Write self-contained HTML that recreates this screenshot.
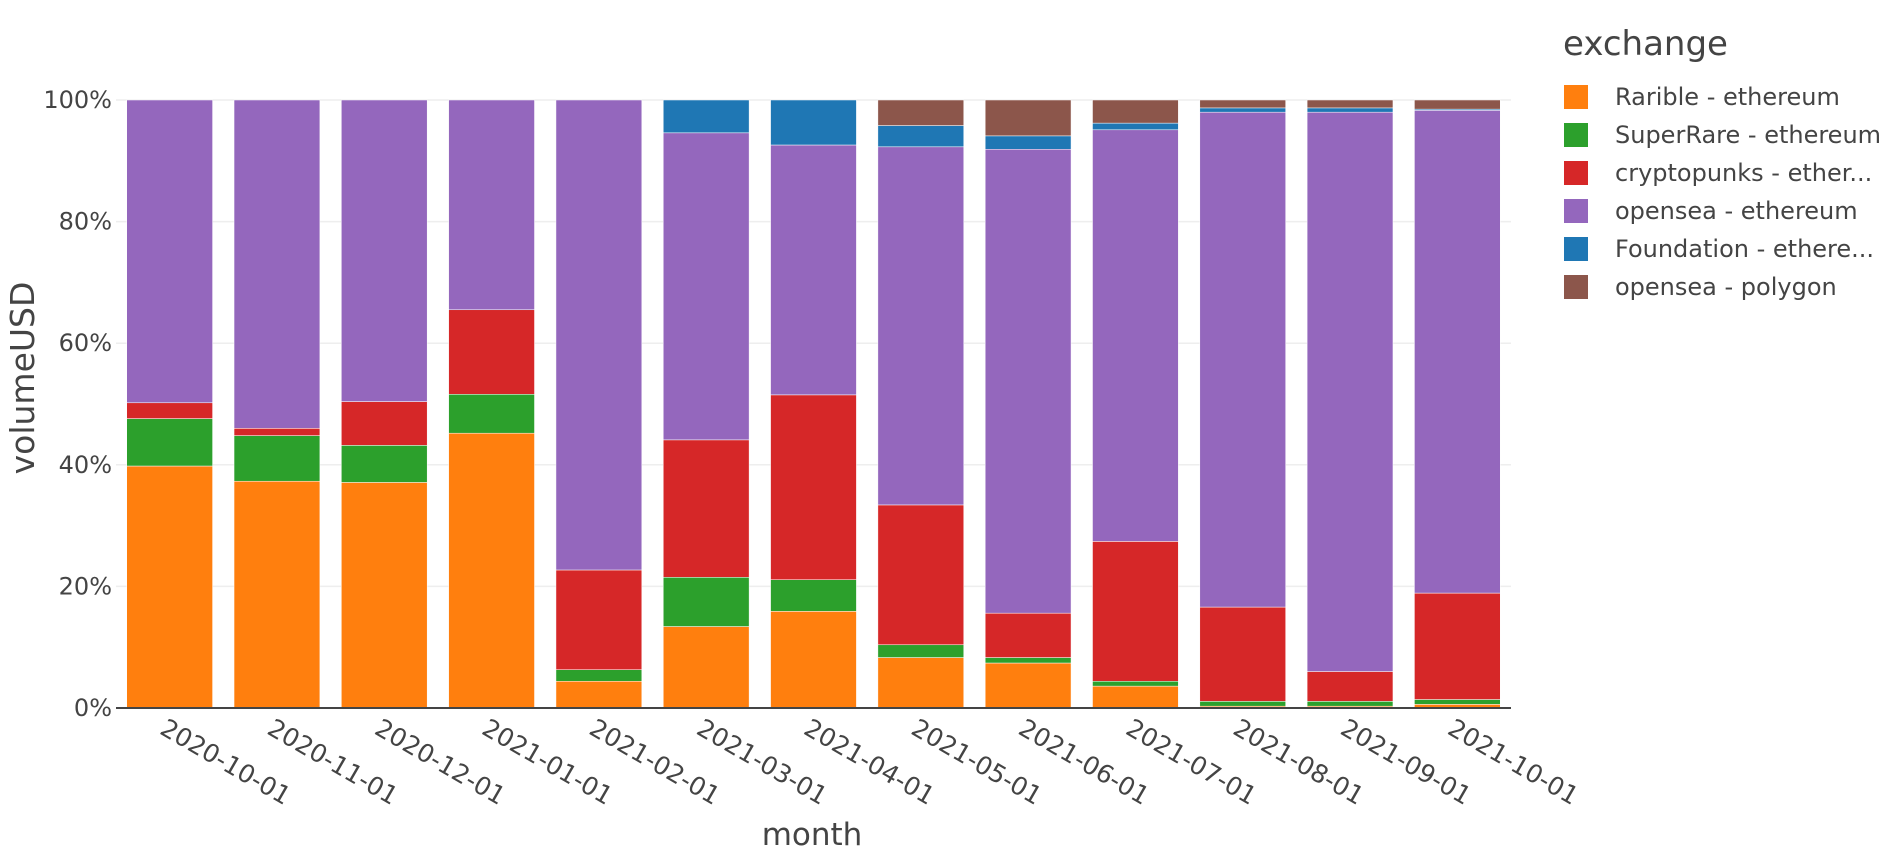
<!DOCTYPE html>
<html><head><meta charset="utf-8"><style>
body{margin:0;background:#fff}
svg text{font-family:"DejaVu Sans","Liberation Sans",sans-serif;fill:#444}
</style></head><body>
<svg id="chart" width="1900" height="856" xmlns="http://www.w3.org/2000/svg">
<g id="grid"></g>
<g id="bars"></g>
<g id="axes"></g>
<text transform="translate(34,378) rotate(-90)" text-anchor="middle" font-size="33">volumeUSD</text>
<text x="812" y="845" text-anchor="middle" font-size="31">month</text>
<g id="legend">
<text x="1563" y="55" font-size="34">exchange</text>
</g>
</svg>
<script>
const categories=["2020-10-01","2020-11-01","2020-12-01","2021-01-01","2021-02-01","2021-03-01","2021-04-01","2021-05-01","2021-06-01","2021-07-01","2021-08-01","2021-09-01","2021-10-01"];
const seriesNames=["Rarible - ethereum","SuperRare - ethereum","cryptopunks - ethereum","opensea - ethereum","Foundation - ethereum","opensea - polygon"];
const legendLabels=["Rarible - ethereum","SuperRare - ethereum","cryptopunks - ether...","opensea - ethereum","Foundation - ethere...","opensea - polygon"];
const colors=["#ff7f0e","#2ca02c","#d62728","#9467bd","#1f77b4","#8c564b"];
const rarible=[39.8,37.3,37.1,45.2,4.4,13.4,15.9,8.3,7.4,3.6,0.3,0.3,0.6];
const superrare=[7.8,7.5,6.1,6.4,1.9,8.1,5.2,2.1,0.9,0.8,0.8,0.8,0.8];
const cryptopunks=[2.6,1.2,7.2,13.9,16.4,22.6,30.4,23,7.3,23,15.5,4.9,17.5];
const openseaEth=[49.8,54,49.6,34.5,77.3,50.5,41.1,58.9,76.3,67.7,81.4,92,79.4];
const foundation=[0,0,0,0,0,5.4,7.4,3.5,2.2,1.1,0.7,0.7,0.2];
const openseaPoly=[0,0,0,0,0,0,0,4.2,5.9,3.8,1.3,1.3,1.5];
const yTicks=[0,20,40,60,80,100];
const series=[rarible,superrare,cryptopunks,openseaEth,foundation,openseaPoly];
const NS="http://www.w3.org/2000/svg";
const X0=116,X1=1511,Y0=708,Y1=100;
const step=(X1-X0)/categories.length;
function xc(i){return X0+step*(i+0.5);}
function y(v){return Y0-(v/100)*(Y0-Y1);}
function mk(tag,attrs,parent){const e=document.createElementNS(NS,tag);for(const k in attrs)e.setAttribute(k,attrs[k]);parent.appendChild(e);return e;}
const grid=document.getElementById('grid'),bars=document.getElementById('bars'),axes=document.getElementById('axes'),legend=document.getElementById('legend');
yTicks.forEach(t=>{
  if(t>0){const l=mk('line',{x1:X0,x2:X1,y1:y(t),y2:y(t),stroke:'#eee','stroke-width':1.5},grid);
  
  }
  const tx=mk('text',{x:112,y:y(t)+8,'text-anchor':'end','font-size':24},axes);
  tx.textContent=t+'%';
  
  
});
const bw=step*0.8;
categories.forEach((c,i)=>{
  let acc=0;
  series.forEach((s,k)=>{
    const v=s[i];if(v<=0)return;
    const r=mk('rect',{x:xc(i)-bw/2,y:y(acc+v),width:bw,height:y(acc)-y(acc+v),fill:colors[k],stroke:'#fff','stroke-width':0.5},bars);
    
    
    acc+=v;
  });
  const tx=mk('text',{transform:`translate(${xc(i)-2},${Y0+9}) rotate(30)`,'font-size':25,'dominant-baseline':'hanging'},axes);
  tx.textContent=c;
  
  
});
const ax=mk('line',{x1:X0,x2:X1,y1:Y0,y2:Y0,stroke:'#444','stroke-width':2},axes);


legendLabels.forEach((n,k)=>{
  const cy=97+38*k;
  const sw=mk('rect',{x:1564,y:cy-12,width:24,height:24,fill:colors[k]},legend);
  
  
  const t=mk('text',{x:1615,y:cy+8,'font-size':24},legend);
  t.textContent=n;
  
  
});
</script>
</body></html>
